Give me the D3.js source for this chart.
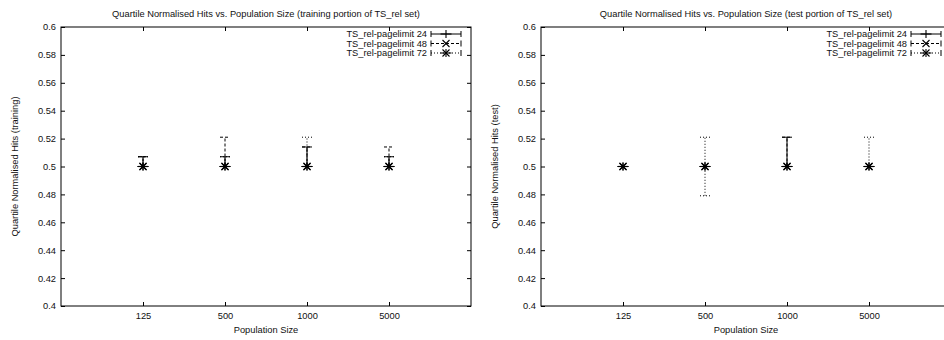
<!DOCTYPE html>
<html><head><meta charset="utf-8">
<script src="https://cdn.jsdelivr.net/npm/d3@7"></script>
<style>body{margin:0;background:#fff}svg{display:block}text{font-family:"Liberation Sans",Arial,sans-serif;fill:#111}</style>
</head><body><svg id="c" width="944" height="340"></svg>
<script>
const categories = ["125", "500", "1000", "5000"];
const seriesNames = ["TS_rel-pagelimit 24", "TS_rel-pagelimit 48", "TS_rel-pagelimit 72"];
const yTicks = [0.4, 0.42, 0.44, 0.46, 0.48, 0.5, 0.52, 0.54, 0.56, 0.58, 0.6];
// training portion
const trainMid24 = [0.5, 0.5, 0.5, 0.5];
const trainLow24 = [0.5, 0.5, 0.5, 0.5];
const trainHigh24 = [0.507, 0.507, 0.514, 0.507];
const trainMid48 = [0.5, 0.5, 0.5, 0.5];
const trainLow48 = [0.5, 0.5, 0.5, 0.5];
const trainHigh48 = [0.507, 0.521, 0.514, 0.514];
const trainMid72 = [0.5, 0.5, 0.5, 0.5];
const trainLow72 = [0.5, 0.5, 0.5, 0.5];
const trainHigh72 = [0.507, 0.507, 0.521, 0.507];
// test portion
const testMid24 = [0.5, 0.5, 0.5, 0.5];
const testLow24 = [0.5, 0.5, 0.5, 0.5];
const testHigh24 = [0.5, 0.5, 0.521, 0.5];
const testMid48 = [0.5, 0.5, 0.5, 0.5];
const testLow48 = [0.5, 0.5, 0.5, 0.5];
const testHigh48 = [0.5, 0.5, 0.521, 0.5];
const testMid72 = [0.5, 0.5, 0.5, 0.5];
const testLow72 = [0.5, 0.479, 0.5, 0.5];
const testHigh72 = [0.5, 0.521, 0.5, 0.521];

const svg = d3.select("#c");
const dashes = [null, "3,2", "1,2"];
const markers = ["plus", "cross", "star"];
const FS = "9.3px";

function drawMarker(g, type, cx, cy) {
  const segs = [];
  if (type === "plus" || type === "star") { segs.push([-5.5,0,5.5,0],[0,-4,0,4]); }
  if (type === "cross" || type === "star") { segs.push([-3.5,-3.5,3.5,3.5],[-3.5,3.5,3.5,-3.5]); }
  segs.forEach(s => g.append("line").attr("x1", cx+s[0]).attr("y1", cy+s[1]).attr("x2", cx+s[2]).attr("y2", cy+s[3])
    .attr("stroke", "#000").attr("stroke-width", 1.1));
}

function panel(left, title, ylabel, series) {
  const top = 27, bottom = 306, width = 410, right = left + width;
  const x = d3.scaleLinear().domain([0, categories.length + 1]).range([left, right]);
  const y = d3.scaleLinear().domain([0.4, 0.6]).range([bottom, top]);
  const g = svg.append("g");
  const fmt = d => d3.format("")(+d.toFixed(2));
  const xv = categories.map((c, i) => i + 1);

  const ax = (axis, tr) => {
    const a = g.append("g").attr("transform", tr).call(axis);
    a.select(".domain").remove();
    a.selectAll("line").attr("stroke", "#000");
    a.selectAll("text").style("font-size", FS).attr("fill", "#111");
    return a;
  };
  ax(d3.axisLeft(y).tickValues(yTicks).tickSize(-4).tickPadding(5).tickFormat(fmt), `translate(${left},0)`);
  ax(d3.axisRight(y).tickValues(yTicks).tickSize(-4).tickFormat(""), `translate(${right},0)`);
  ax(d3.axisBottom(x).tickValues(xv).tickSize(-4).tickPadding(6).tickFormat(d => categories[d - 1]), `translate(0,${bottom})`);
  ax(d3.axisTop(x).tickValues(xv).tickSize(-4).tickFormat(""), `translate(0,${top})`);

  g.append("rect").attr("x", left).attr("y", top).attr("width", width).attr("height", bottom - top)
    .attr("fill", "none").attr("stroke", "#000").attr("stroke-width", 1);

  g.append("text").attr("x", (left + right) / 2).attr("y", 17).attr("text-anchor", "middle").style("font-size", FS).text(title);
  g.append("text").attr("x", (left + right) / 2).attr("y", 333).attr("text-anchor", "middle").style("font-size", FS).text("Population Size");
  g.append("text").attr("transform", `translate(${left - 43},${(top + bottom) / 2}) rotate(-90)`)
    .attr("text-anchor", "middle").style("font-size", FS).text(ylabel);

  series.forEach((s, si) => {
    const sg = g.append("g");
    s.mid.forEach((m, i) => {
      const cx = x(i + 1);
      if (s.high[i] !== s.low[i]) {
        sg.append("line").attr("x1", cx).attr("x2", cx).attr("y1", y(s.low[i])).attr("y2", y(s.high[i]))
          .attr("stroke", "#000").attr("stroke-dasharray", dashes[si]);
        [s.low[i], s.high[i]].forEach(v => {
          if (v !== m) sg.append("line").attr("x1", cx - 5).attr("x2", cx + 5).attr("y1", y(v)).attr("y2", y(v))
            .attr("stroke", "#000").attr("stroke-dasharray", dashes[si]);
        });
      }
      drawMarker(sg, markers[si], cx, y(m));
    });
    // legend
    const ly = 34 + si * 9.5;
    g.append("text").attr("x", right - 44).attr("y", ly + 3.3).attr("text-anchor", "end").style("font-size", FS).text(seriesNames[si]);
    const x1 = right - 40, x2 = right - 10;
    g.append("line").attr("x1", x1).attr("x2", x2).attr("y1", ly).attr("y2", ly).attr("stroke", "#000").attr("stroke-dasharray", dashes[si]);
    [x1, x2].forEach(xx => g.append("line").attr("x1", xx).attr("x2", xx).attr("y1", ly - 3).attr("y2", ly + 3).attr("stroke", "#000"));
    drawMarker(g, markers[si], (x1 + x2) / 2, ly);
  });
}

panel(61, "Quartile Normalised Hits vs. Population Size (training portion of TS_rel set)", "Quartile Normalised Hits (training)", [
  {mid: trainMid24, low: trainLow24, high: trainHigh24},
  {mid: trainMid48, low: trainLow48, high: trainHigh48},
  {mid: trainMid72, low: trainLow72, high: trainHigh72}
]);
panel(541, "Quartile Normalised Hits vs. Population Size (test portion of TS_rel set)", "Quartile Normalised Hits (test)", [
  {mid: testMid24, low: testLow24, high: testHigh24},
  {mid: testMid48, low: testLow48, high: testHigh48},
  {mid: testMid72, low: testLow72, high: testHigh72}
]);
</script></body></html>
